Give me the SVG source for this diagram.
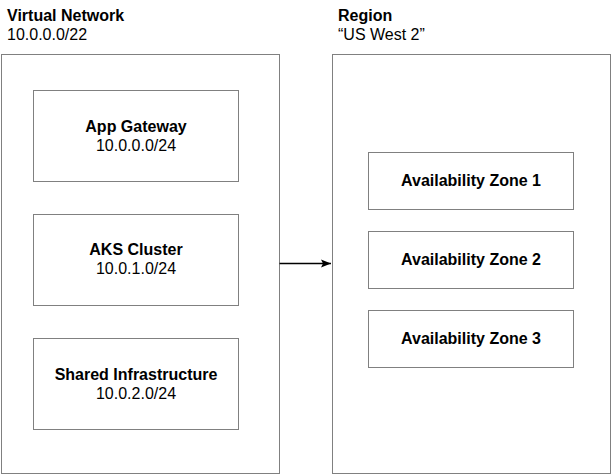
<svg xmlns="http://www.w3.org/2000/svg" width="611" height="474" viewBox="0 0 611 474">
<style>
.box{fill:#ffffff;stroke:#808080;stroke-width:1}
.t{font-family:"Liberation Sans",Arial,Helvetica,sans-serif;font-size:16px;fill:#000000}
.b{font-weight:bold}
.c{text-anchor:middle}
</style>
<defs>
<marker id="arrow" markerUnits="userSpaceOnUse" markerWidth="12" markerHeight="10" refX="10" refY="5" orient="auto">
<path d="M0,1 L10,5 L0,9 L2,5 Z" fill="#000000"/>
</marker>
</defs>
<rect width="611" height="474" fill="#ffffff"/>
<g id="vnet">
<rect class="box" x="1.5" y="54.5" width="278" height="419"/>
<text class="t b" x="7" y="21">Virtual Network</text>
<text class="t" x="7" y="40">10.0.0.0/22</text>
</g>
<g id="region">
<rect class="box" x="332.5" y="54.5" width="278" height="419"/>
<text class="t b" x="338" y="21">Region</text>
<text class="t" x="338" y="40">“US West 2”</text>
</g>
<g id="app-gateway">
<rect class="box" x="33.5" y="90.5" width="205" height="91"/>
<text class="t b c" x="136" y="132">App Gateway</text>
<text class="t c" x="136" y="151">10.0.0.0/24</text>
</g>
<g id="aks-cluster">
<rect class="box" x="33.5" y="214.5" width="205" height="91"/>
<text class="t b c" x="136" y="255">AKS Cluster</text>
<text class="t c" x="136" y="274">10.0.1.0/24</text>
</g>
<g id="shared-infra">
<rect class="box" x="33.5" y="338.5" width="205" height="91"/>
<text class="t b c" x="136" y="380">Shared Infrastructure</text>
<text class="t c" x="136" y="399">10.0.2.0/24</text>
</g>
<g id="az1">
<rect class="box" x="368.5" y="152.5" width="205" height="57"/>
<text class="t b c" x="471" y="186">Availability Zone 1</text>
</g>
<g id="az2">
<rect class="box" x="368.5" y="231.5" width="205" height="57"/>
<text class="t b c" x="471" y="265">Availability Zone 2</text>
</g>
<g id="az3">
<rect class="box" x="368.5" y="310.5" width="205" height="57"/>
<text class="t b c" x="471" y="344">Availability Zone 3</text>
</g>
<g id="connectors">
<line x1="279.5" y1="263.5" x2="331" y2="263.5" stroke="#000000" stroke-width="1.3" marker-end="url(#arrow)"/>
</g>
</svg>
